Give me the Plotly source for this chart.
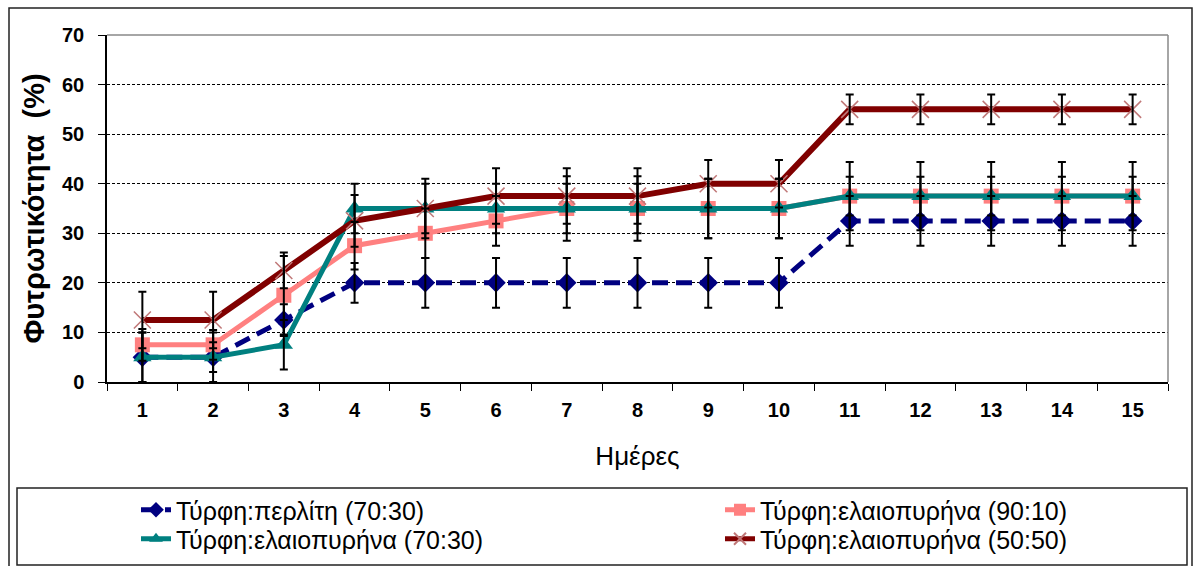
import plotly.graph_objects as go

days = [str(d) for d in range(1, 16)]

perlite_70_30 = [5, 5, 12.5, 20, 20, 20, 20, 20, 20, 20, 32.5, 32.5, 32.5, 32.5, 32.5]
olive_90_10 = [7.5, 7.5, 17.5, 27.5, 30, 32.5, 35, 35, 35, 35, 37.5, 37.5, 37.5, 37.5, 37.5]
olive_70_30 = [5, 5, 7.5, 35, 35, 35, 35, 35, 35, 35, 37.5, 37.5, 37.5, 37.5, 37.5]
olive_50_50 = [12.5, 12.5, 22.5, 32.5, 35, 37.5, 37.5, 37.5, 40, 40, 55, 55, 55, 55, 55]

perlite_70_30_err = [5, 3, 3.2, 4, 5, 5, 5, 5, 5, 5, 5, 5, 5, 5, 5]
olive_90_10_err = [3.2, 3, 7.9, 4.8, 5, 5, 5, 5, 6, 6, 6.9, 6.9, 6.9, 6.9, 6.9]
olive_70_30_err = [5, 5, 5, 5, 5, 5, 6.5, 6.5, 6, 6, 3.9, 3.9, 3.9, 3.9, 3.9]
olive_50_50_err = [5.7, 5.7, 3.6, 5.2, 6, 5.6, 5.6, 5.6, 4.8, 4.8, 3, 3, 3, 3, 3]

names = ["Τύρφη:περλίτη (70:30)", "Τύρφη:ελαιοπυρήνα (90:10)",
         "Τύρφη:ελαιοπυρήνα (70:30)", "Τύρφη:ελαιοπυρήνα (50:50)"]
y_title = "Φυτρωτικότητα  (%)"
x_title = "Ημέρες"
y_ticks = [0, 10, 20, 30, 40, 50, 60, 70]

FONT = "Liberation Sans, Arial, sans-serif"

fig = go.Figure()

fig.add_trace(go.Scatter(
    x=days, y=perlite_70_30, name=names[0], mode="lines+markers",
    line=dict(color="#000080", width=5, dash="16px,8px"),
    marker=dict(symbol="diamond", size=15, color="#000080"),
    legend="legend"))
fig.add_trace(go.Scatter(
    x=days, y=olive_90_10, name=names[1], mode="lines+markers",
    line=dict(color="#FF8080", width=5),
    marker=dict(symbol="square", size=15, color="#FF8080"),
    legend="legend2"))
fig.add_trace(go.Scatter(
    x=days, y=olive_70_30, name=names[2], mode="lines+markers",
    line=dict(color="#008080", width=5),
    marker=dict(symbol="triangle-up", size=16, color="#008080"),
    legend="legend3"))
fig.add_trace(go.Scatter(
    x=days, y=olive_50_50, name=names[3], mode="lines+markers",
    line=dict(color="#800000", width=6),
    marker=dict(symbol="x-thin", size=17, color="#C07878",
                line=dict(color="#C07878", width=1.5)),
    legend="legend4"))

# error bars drawn on top
for vals, errs in [(perlite_70_30, perlite_70_30_err), (olive_90_10, olive_90_10_err),
                   (olive_70_30, olive_70_30_err), (olive_50_50, olive_50_50_err)]:
    fig.add_trace(go.Scatter(
        x=days, y=vals, mode="markers", showlegend=False, hoverinfo="skip",
        marker=dict(size=1, opacity=0),
        error_y=dict(type="data", array=errs, visible=True, color="#000000",
                     thickness=2, width=4)))

L, R, T, B = 107, 1168, 35, 382
W, H = 1194, 566
pw, ph = R - L, B - T


def px(x):
    return (x - L) / pw


def py(y):
    return (B - y) / ph


shapes = [
    dict(type="line", xref="paper", yref="paper", x0=0, x1=1, y0=1, y1=1,
         line=dict(color="#888888", width=1.5), layer="above"),
    dict(type="line", xref="paper", yref="paper", x0=1, x1=1, y0=0, y1=1,
         line=dict(color="#888888", width=1.5), layer="above"),
    dict(type="rect", xref="paper", yref="paper", x0=px(9), x1=px(1192),
         y0=py(575), y1=py(8), line=dict(color="#222222", width=1.5),
         layer="below"),
    dict(type="rect", xref="paper", yref="paper", x0=px(17), x1=px(1187),
         y0=py(565), y1=py(488), line=dict(color="#222222", width=1.5),
         layer="below"),
]

legend_common = dict(
    orientation="v", yanchor="middle", xanchor="left",
    font=dict(family=FONT, size=25, color="#000000"),
    bgcolor="rgba(0,0,0,0)", borderwidth=0, tracegroupgap=0,
    itemsizing="constant")

fig.update_layout(
    width=W, height=H,
    margin=dict(l=L, r=W - R, t=T, b=H - B, pad=0, autoexpand=False),
    paper_bgcolor="white", plot_bgcolor="white",
    font=dict(family=FONT, color="#000000"),
    shapes=shapes,
    legend=dict(x=px(136), y=py(510), **legend_common),
    legend2=dict(x=px(720), y=py(510), **legend_common),
    legend3=dict(x=px(136), y=py(539), **legend_common),
    legend4=dict(x=px(720), y=py(539), **legend_common),
    xaxis=dict(
        type="category", range=[-0.5, 14.5], autorange=False,
        tickson="boundaries", ticks="outside", ticklen=7,
        tickcolor="#000000", tickwidth=1, showline=True, linecolor="#000000",
        linewidth=1.5, showgrid=False, automargin=False,
        tickfont=dict(family=FONT, size=20, weight="bold"),
        ticklabelstandoff=9,
        title=dict(text=x_title, font=dict(family=FONT, size=26), standoff=27),
    ),
    yaxis=dict(
        range=[0, 70], autorange=False, tickvals=y_ticks, ticks="outside",
        ticklen=7, automargin=False,
        tickcolor="#000000", tickwidth=1, showline=True, linecolor="#000000",
        linewidth=1.5, zeroline=False, showgrid=True, gridcolor="#000000",
        gridwidth=1, griddash="3px,2px",
        tickfont=dict(family=FONT, size=20, weight="bold"),
        ticklabelstandoff=10,
        title=dict(text=y_title, font=dict(family=FONT, size=29, weight="bold"),
                   standoff=9),
    ),
)

fig.write_html("out.html")
